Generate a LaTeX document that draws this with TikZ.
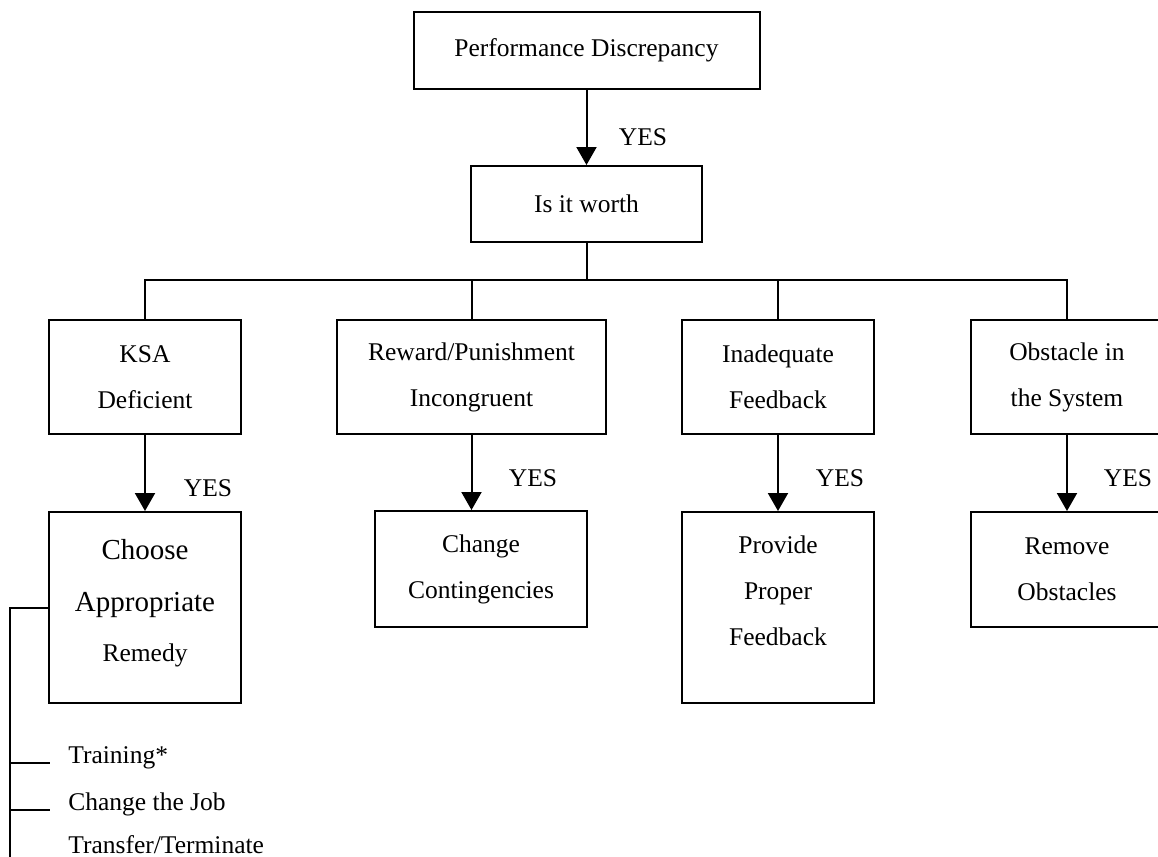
\documentclass[tikz,border=0pt]{standalone}
\usepackage{fontspec}
\setmainfont{Liberation Serif}
\usetikzlibrary{arrows.meta}

\newcommand{\bigline}{\fontsize{14.5}{26}\selectfont}

\begin{document}
\begin{tikzpicture}[x=0.5pt,y=-0.5pt,
	font=\fontsize{12.75}{23}\selectfont,
	box/.style={draw,line width=1pt,align=center,inner sep=0pt},
	link/.style={line width=1pt},
	arr/.style={line width=1pt,-{Triangle[length=9pt,width=10pt]}},
	yes/.style={inner sep=0pt},
	item/.style={anchor=base west,inner sep=0pt}]
					\useasboundingbox (0,0) rectangle (1158,857);
					\clip (0,0) rectangle (1158,857);
					
					% top of the chart
					\node[box,minimum width=173pt,minimum height=38.5pt] (perf) at (586.5,50.5) {Performance Discrepancy};
					\node[box,minimum width=115.5pt,minimum height=38pt] (worth) at (586.5,204) {Is it worth};
					\draw[arr] (perf) -- (worth);
					\node[yes] (yes0) at (643,137) {YES};
					
					% four causes
					\node[box,minimum width=96pt,minimum height=57pt] (ksa) at (145,377) {KSA\\Deficient};
					\node[box,minimum width=134.5pt,minimum height=57pt] (reward) at (471.5,377) {Reward/Punishment\\Incongruent};
					\node[box,minimum width=96pt,minimum height=57pt] (inad) at (778,377) {Inadequate\\Feedback};
					\node[box,minimum width=96pt,minimum height=57pt] (obst) at (1067,377) {Obstacle in\\the System};
					
					\coordinate (bus) at (586.5,280);
					\draw[link] (worth) -- (bus);
					\draw[link] (ksa.north) |- (bus) -| (obst.north);
					\draw[link] (reward.north) -- (reward.north |- bus);
					\draw[link] (inad.north) -- (inad.north |- bus);
					
					% remedies
					\node[box,minimum width=96pt,minimum height=95.5pt] (choose) at (145,607.5) {{\bigline Choose}\\[3pt]{\bigline Appropriate}\\[2pt]Remedy\\[-15.5pt]\mbox{}};
					\node[box,minimum width=106pt,minimum height=58pt] (change) at (481,569) {Change\\Contingencies};
					\node[box,minimum width=96pt,minimum height=95.5pt] (provide) at (778,607.5) {Provide\\Proper\\Feedback\\[-6.5pt]\mbox{}};
					\node[box,minimum width=96pt,minimum height=57.5pt] (remove) at (1067,569.5) {Remove\\Obstacles};
					
					\draw[arr] (ksa) -- (choose);
					\draw[arr] (reward.south) -- (reward.south |- change.north);
					\draw[arr] (inad) -- (provide);
					\draw[arr] (obst) -- (remove);
					
					\node[yes] (yes1) at (208,488) {YES};
					\node[yes] (yes2) at (533,478) {YES};
					\node[yes] (yes3) at (840,478) {YES};
					\node[yes] (yes4) at (1128,478) {YES};
					
					% list of remedies
					\node[item] (train) at (68,763) {Training*};
					\node[item] (job) at (68,810) {Change the Job};
					\node[item] (term) at (68,853) {Transfer/Terminate};
					
					\coordinate (rail) at (10,607.5);
					\coordinate (railend) at (10,870);
					\draw[link] (choose.west) -- (rail) -- (railend);
					\foreach \n in {train,job}
						\draw[link] (rail |- \n.base) -- ([xshift=-9pt]\n.base west);
				\end{tikzpicture}
\end{document}
